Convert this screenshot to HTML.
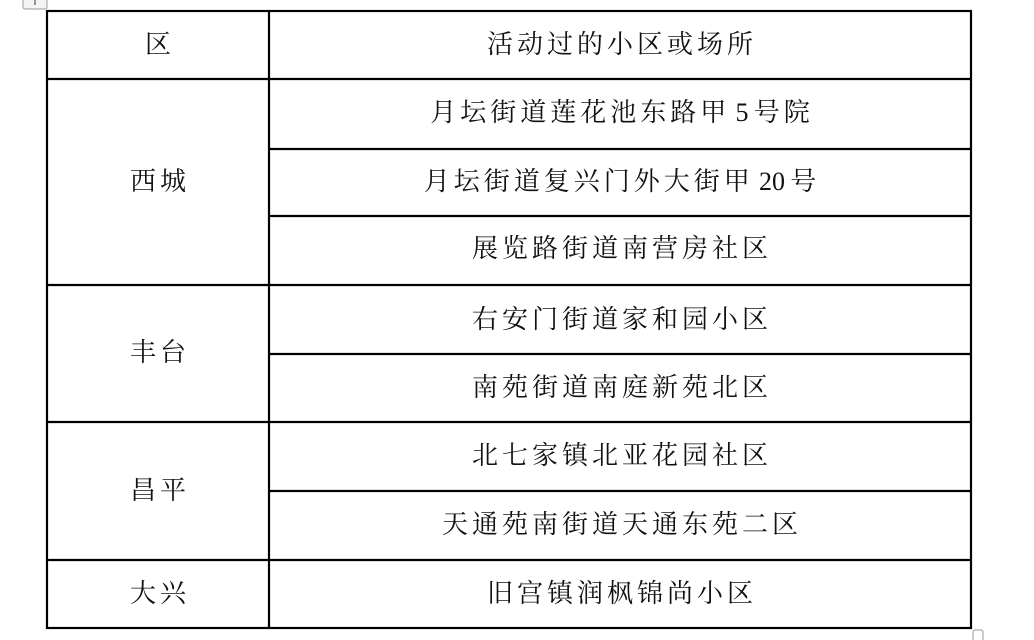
<!DOCTYPE html>
<html><head><meta charset="utf-8"><style>
body{margin:0;width:1034px;height:640px;background:#fff;position:relative;overflow:hidden;font-family:"Liberation Serif","Noto Serif CJK SC",serif;}
.t{position:absolute;font-size:26px;letter-spacing:4px;color:#111;white-space:nowrap;transform:translate(-50%,-50%);line-height:1}
.d{letter-spacing:0}
</style></head><body>
<svg width="1034" height="640" style="position:absolute;left:0;top:0">
<rect x="23" y="-4" width="24" height="13" rx="2" fill="#f4f4f4" stroke="#999" stroke-width="1"/>
<line x1="35" y1="0" x2="35" y2="5" stroke="#333" stroke-width="1"/>
<rect x="973" y="630" width="10" height="12" rx="2" fill="#fff" stroke="#999" stroke-width="1"/>
<g stroke="#000" stroke-width="2.2" fill="none">
<rect x="47" y="11" width="924" height="617"/>
<line x1="269" y1="11" x2="269" y2="628"/>
<line x1="47" y1="79" x2="971" y2="79"/>
<line x1="269" y1="149" x2="971" y2="149"/>
<line x1="269" y1="216" x2="971" y2="216"/>
<line x1="47" y1="285" x2="971" y2="285"/>
<line x1="269" y1="354" x2="971" y2="354"/>
<line x1="47" y1="422" x2="971" y2="422"/>
<line x1="269" y1="491" x2="971" y2="491"/>
<line x1="47" y1="560" x2="971" y2="560"/>
</g></svg>
<div class="t" style="left:160px;top:45px">区</div>
<div class="t" style="left:622px;top:45px">活动过的小区或场所</div>
<div class="t" style="left:160px;top:182px">西城</div>
<div class="t" style="left:622px;top:113px">月坛街道莲花池东路甲<span class="d">&thinsp;5&thinsp;</span>号院</div>
<div class="t" style="left:622px;top:182px">月坛街道复兴门外大街甲<span class="d">&thinsp;20&thinsp;</span>号</div>
<div class="t" style="left:622px;top:249px">展览路街道南营房社区</div>
<div class="t" style="left:160px;top:353px">丰台</div>
<div class="t" style="left:622px;top:320px">右安门街道家和园小区</div>
<div class="t" style="left:622px;top:388px">南苑街道南庭新苑北区</div>
<div class="t" style="left:160px;top:491px">昌平</div>
<div class="t" style="left:622px;top:456px">北七家镇北亚花园社区</div>
<div class="t" style="left:622px;top:525px">天通苑南街道天通东苑二区</div>
<div class="t" style="left:160px;top:594px">大兴</div>
<div class="t" style="left:622px;top:594px">旧宫镇润枫锦尚小区</div>
</body></html>
